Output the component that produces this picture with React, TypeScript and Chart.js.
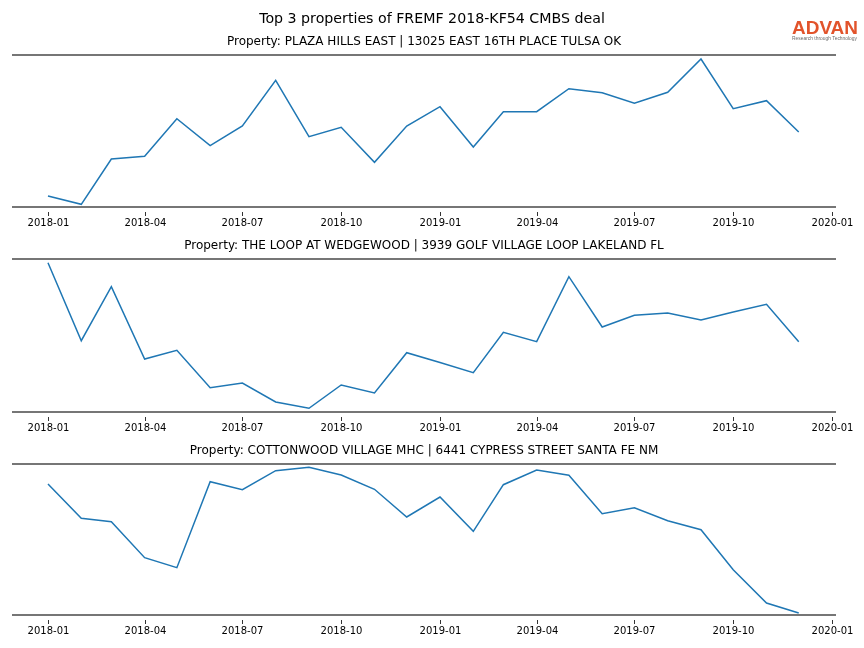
import React, { useEffect, useRef } from "react";
import { Chart, registerables } from "chart.js";

Chart.register(...registerables);

const MONTHS = [
  "2018-01", "2018-02", "2018-03", "2018-04", "2018-05", "2018-06",
  "2018-07", "2018-08", "2018-09", "2018-10", "2018-11", "2018-12",
  "2019-01", "2019-02", "2019-03", "2019-04", "2019-05", "2019-06",
  "2019-07", "2019-08", "2019-09", "2019-10", "2019-11", "2019-12",
];

const PLAZA_HILLS = [
  11, 2.7, 48, 50.7, 88.3, 61.3, 81, 126.7, 70.3, 79.7, 44.7, 81,
  100.3, 60, 95.3, 95.3, 118.3, 114.3, 103.7, 114.7, 148, 98.3, 106.3, 75,
];
const THE_LOOP = [
  149.3, 71.3, 125.3, 53, 61.7, 24.3, 29, 10, 3.7, 27, 19, 59.3,
  49.5, 39.3, 79.7, 70.3, 135.3, 85, 96.7, 99, 92, 100, 107.7, 70.3,
];
const COTTONWOOD = [
  131, 96.7, 93.3, 57.3, 47.3, 133.3, 125.3, 144.3, 147.7, 140, 125.7, 98,
  118, 83.7, 130.3, 145, 139.7, 101.3, 107.3, 94.3, 85.3, 45.3, 12, 2,
];

const TICK_LABELS = [
  "2018-01", "2018-04", "2018-07", "2018-10",
  "2019-01", "2019-04", "2019-07", "2019-10", "2020-01",
];

const SUPER_TITLE = "Top 3 properties of FREMF 2018-KF54 CMBS deal";
const TITLES = [
  "Property: PLAZA HILLS EAST | 13025 EAST 16TH PLACE TULSA OK",
  "Property: THE LOOP AT WEDGEWOOD | 3939 GOLF VILLAGE LOOP LAKELAND FL",
  "Property: COTTONWOOD VILLAGE MHC | 6441 CYPRESS STREET SANTA FE NM",
];

const toTs = (s: string) => {
  const [y, m] = s.split("-").map(Number);
  return Date.UTC(y, m - 1, 1);
};
const DAY = 86400000;
const X_MIN = toTs("2018-01") - 33.5 * DAY;
const X_MAX = toTs("2020-01") + 3.7 * DAY;

const FONT = '"DejaVu Sans", sans-serif';
const W = 864;

type PanelProps = {
  top: number;
  height: number;
  padTop: number;
  padBottom: number;
  title: string;
  values: number[];
  yMax: number;
  showSuper?: boolean;
};

function fitText(ctx: CanvasRenderingContext2D, text: string, x: number, y: number, width: number) {
  const w = ctx.measureText(text).width;
  ctx.save();
  ctx.translate(x, y);
  ctx.scale(width / w, 1);
  ctx.fillText(text, 0, 0);
  ctx.restore();
}

function Panel({ top, height, padTop, padBottom, title, values, yMax, showSuper }: PanelProps) {
  const ref = useRef<HTMLCanvasElement | null>(null);
  useEffect(() => {
    if (!ref.current) return;
    const deco = {
      id: "deco",
      afterDraw(chart: any) {
        const { ctx, chartArea } = chart;
        const { left, right, top: t, bottom: b } = chartArea;
        const x = chart.scales.x;
        ctx.save();
        ctx.strokeStyle = "#4a4a4a";
        ctx.lineWidth = 1.6;
        ctx.beginPath();
        ctx.moveTo(left, t);
        ctx.lineTo(right, t);
        ctx.moveTo(left, b);
        ctx.lineTo(right, b);
        ctx.stroke();

        ctx.strokeStyle = "#333";
        ctx.lineWidth = 1;
        ctx.fillStyle = "#000";
        ctx.font = `10px ${FONT}`;
        ctx.textAlign = "center";
        ctx.textBaseline = "middle";
        TICK_LABELS.forEach((lab) => {
          const px = Math.round(x.getPixelForValue(toTs(lab))) + 0.5;
          ctx.beginPath();
          ctx.moveTo(px, b + 5);
          ctx.lineTo(px, b + 9);
          ctx.stroke();
          ctx.fillText(lab, px, b + 16);
        });

        ctx.font = `12px ${FONT}`;
        ctx.fillText(title, (left + right) / 2, t - 13);

        if (showSuper) {
          ctx.font = `14.2px ${FONT}`;
          ctx.fillText(SUPER_TITLE, W / 2, 19);
          ctx.textAlign = "left";
          ctx.textBaseline = "alphabetic";
          ctx.fillStyle = "#e2532b";
          ctx.font = `bold 19px "Liberation Sans", sans-serif`;
          fitText(ctx, "ADVAN", 792, 34, 66);
          ctx.fillStyle = "#6a6a6a";
          ctx.font = `4.5px "Liberation Sans", sans-serif`;
          fitText(ctx, "Research through Technology", 792, 40, 65);
        }
        ctx.restore();
      },
    };
    const chart = new Chart(ref.current, {
      type: "line",
      data: {
        datasets: [
          {
            data: MONTHS.map((m, i) => ({ x: toTs(m), y: values[i] })),
            borderColor: "#1f77b4",
            borderWidth: 1.5,
            pointRadius: 0,
            fill: false,
            tension: 0,
          },
        ],
      },
      options: {
        animation: false,
        responsive: false,
        devicePixelRatio: 1,
        layout: { padding: { top: padTop, bottom: padBottom, left: 12, right: W - 836 } },
        plugins: { legend: { display: false }, tooltip: { enabled: false }, title: { display: false } },
        scales: {
          x: { type: "linear", min: X_MIN, max: X_MAX, display: false },
          y: { type: "linear", min: 0, max: yMax, display: false },
        },
      },
      plugins: [deco],
    });
    return () => chart.destroy();
  }, []);
  return (
    <canvas
      ref={ref}
      width={W}
      height={height}
      style={{ position: "absolute", left: 0, top, width: W, height }}
    />
  );
}

export default function App() {
  return (
    <div style={{ position: "absolute", left: 0, top: 0, width: W, height: 648, background: "#fff" }}>
      <Panel top={0} height={232} padTop={55} padBottom={25} title={TITLES[0]} values={PLAZA_HILLS} yMax={152} showSuper />
      <Panel top={232} height={204} padTop={27} padBottom={24} title={TITLES[1]} values={THE_LOOP} yMax={153} />
      <Panel top={436} height={212} padTop={28} padBottom={33} title={TITLES[2]} values={COTTONWOOD} yMax={151} />
    </div>
  );
}
